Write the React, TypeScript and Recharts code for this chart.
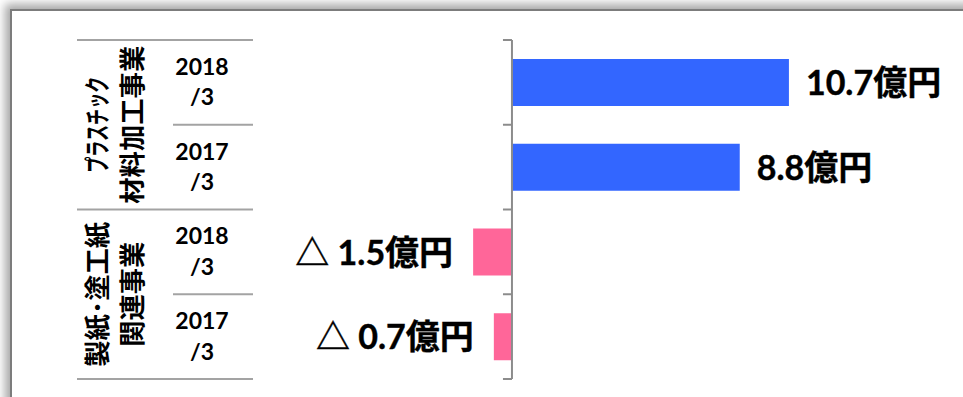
import React from "react";
import { BarChart, Bar, XAxis, YAxis, Cell, LabelList, ReferenceLine } from "recharts";

// 営業利益（億円）
const periods = ["2018/3", "2017/3", "2018/3", "2017/3"];
const segmentIndex = [0, 0, 1, 1];
const segments = [
  ["プラスチック", "材料加工事業"],
  ["製紙･塗工紙", "関連事業"],
];
const profits = [10.7, 8.8, -1.5, -0.7];
const xDomain = [-9, 17];

const W = 963;
const H = 397;
const Y_AXIS_W = 60;
const PLOT_LEFT = 279;
const M = { top: 40, right: 11, bottom: 18, left: PLOT_LEFT - Y_AXIS_W };
const plotW = W - PLOT_LEFT - M.right;
const plotH = H - M.top - M.bottom;
const halfBand = plotH / periods.length / 2;
const zeroX = PLOT_LEFT + ((0 - xDomain[0]) / (xDomain[1] - xDomain[0])) * plotW;

const JP_FONT = "'Noto Sans CJK JP', 'Noto Sans', sans-serif";
const NUM_FONT = "Lato, 'Noto Sans CJK JP', sans-serif";
const TABLE_LINE = "#a3a3a3";
const AXIS_LINE = "#8c8c8c";
const BLUE = "#3366ff";
const PINK = "#ff6699";

const data = periods.map((p, i) => ({
  key: `${segmentIndex[i]}-${p}`,
  period: p,
  seg: segmentIndex[i],
  profit: profits[i],
}));

// 左側の表（事業名・年度）と境界の目盛
function TableTick(props: any) {
  const { y, index } = props;
  const d = data[index];
  if (!d) return <g />;
  const [yr, mo] = d.period.split("/");
  const firstInSeg = index === 0 || data[index - 1].seg !== d.seg;
  const lastRow = index === data.length - 1;
  const top = y - halfBand;
  const bottom = y + halfBand;
  const segCenter = y + halfBand;
  const [line1, line2] = segments[d.seg];
  const len1 = d.seg === 0 ? 96 : 145;
  const len2 = d.seg === 0 ? 158 : 105;

  return (
    <g>
      <line x1={firstInSeg ? 77 : 173} x2={253} y1={top} y2={top} stroke={TABLE_LINE} strokeWidth={2} />
      {lastRow && <line x1={77} x2={253} y1={bottom} y2={bottom} stroke={TABLE_LINE} strokeWidth={2} />}
      <line x1={zeroX - 9} x2={zeroX} y1={top} y2={top} stroke={AXIS_LINE} strokeWidth={2} />
      {lastRow && <line x1={zeroX - 9} x2={zeroX} y1={bottom} y2={bottom} stroke={AXIS_LINE} strokeWidth={2} />}

      <text textAnchor="middle" fontFamily={NUM_FONT} fontWeight={700} fontSize={23} fill="#000">
        <tspan x={202} y={y - 7.5}>{yr}</tspan>
        <tspan x={202} y={y + 23}>/{mo}</tspan>
      </text>

      {firstInSeg && (
        <text
          transform={`rotate(-90, 112, ${segCenter})`}
          textAnchor="middle"
          dominantBaseline="central"
          fontFamily={JP_FONT}
          fontWeight={700}
          fill="#000"
        >
          <tspan x={112} y={segCenter - 17} fontSize={26} textLength={len1} lengthAdjust="spacingAndGlyphs">
            {line1}
          </tspan>
          <tspan x={112} y={segCenter + 18} fontSize={26} textLength={len2} lengthAdjust="spacingAndGlyphs">
            {line2}
          </tspan>
        </text>
      )}
    </g>
  );
}

function ValueLabel(props: any) {
  const { x, y, width, height, value } = props;
  if (value == null) return null;
  const left = Math.min(x, x + width);
  const right = Math.max(x, x + width);
  const cy = y + height / 2;
  const neg = value < 0;
  const text = neg ? `△ ${Math.abs(value).toFixed(1)}億円` : `${value.toFixed(1)}億円`;
  return (
    <text
      x={neg ? left - 20 : right + 17}
      y={cy + 12.5}
      textAnchor={neg ? "end" : "start"}
      fontFamily={NUM_FONT}
      fontWeight={700}
      fontSize={34}
      fill="#000"
      stroke="#000"
      strokeWidth={0.4}
    >
      {text}
    </text>
  );
}

export default function App() {
  return (
    <div style={{ position: "fixed", left: 0, top: 0, width: W, height: H, overflow: "hidden", background: "#fff" }}>
      <div
        style={{
          position: "absolute",
          left: 10,
          top: 9,
          width: W,
          height: H,
          borderLeft: "2px solid #7c7c7c",
          borderTop: "2px solid #7c7c7c",
          boxShadow: "-2px -2px 9px 3px rgba(0,0,0,0.35)",
          background: "#fff",
        }}
      />
      <div style={{ position: "absolute", left: 0, top: 0 }}>
        <BarChart width={W} height={H} data={data} layout="vertical" margin={M}>
          <XAxis type="number" domain={xDomain} hide allowDataOverflow />
          <YAxis
            type="category"
            dataKey="key"
            width={Y_AXIS_W}
            axisLine={false}
            tickLine={false}
            interval={0}
            tick={<TableTick />}
          />
          <Bar dataKey="profit" barSize={47} isAnimationActive={false}>
            {data.map((d) => (
              <Cell key={d.key} fill={d.profit < 0 ? PINK : BLUE} />
            ))}
            <LabelList dataKey="profit" content={<ValueLabel />} />
          </Bar>
          <ReferenceLine x={0} stroke={AXIS_LINE} strokeWidth={2} />
        </BarChart>
      </div>
    </div>
  );
}
